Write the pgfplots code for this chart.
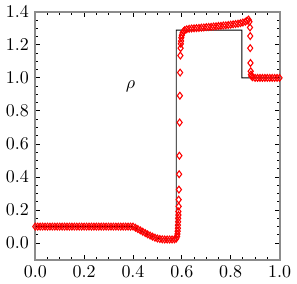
\documentclass[border=0pt]{standalone}
\usepackage{pgfplots}
\pgfplotsset{compat=1.18}
\begin{document}
\begin{tikzpicture}
\begin{axis}[
  scale only axis,
  width=136pt, height=138pt,
  xmin=0, xmax=1, ymin=-0.1, ymax=1.4,
  xtick={0,0.2,0.4,0.6,0.8,1.0},
  ytick={0,0.2,0.4,0.6,0.8,1.0,1.2,1.4},
  minor x tick num=3, minor y tick num=3,
  xticklabel style={/pgf/number format/.cd,fixed,fixed zerofill,precision=1},
  yticklabel style={/pgf/number format/.cd,fixed,fixed zerofill,precision=1},
  tick align=inside,
  major tick length=2.8pt, minor tick length=1.6pt,
  every tick/.style={black, line width=0.5pt},
  axis line style={gray!90, line width=1.1pt},
  clip=false,
]
\addplot[black, line width=0.5pt] coordinates {
(0,0.1) (0.4,0.1) (0.42,0.084) (0.44,0.068) (0.46,0.053) (0.48,0.040) (0.50,0.029) (0.51,0.025)
(0.577,0.025) (0.577,1.289) (0.846,1.289) (0.846,1.0) (1.0,1.0)
};
\addplot[only marks, mark=diamond, mark size=1.9pt, red, mark options={line width=0.6pt}] coordinates {
(0.00,0.1) (0.01,0.1) (0.02,0.1) (0.03,0.1) (0.04,0.1) (0.05,0.1) (0.06,0.1) (0.07,0.1) (0.08,0.1) (0.09,0.1)
(0.10,0.1) (0.11,0.1) (0.12,0.1) (0.13,0.1) (0.14,0.1) (0.15,0.1) (0.16,0.1) (0.17,0.1) (0.18,0.1) (0.19,0.1)
(0.20,0.1) (0.21,0.1) (0.22,0.1) (0.23,0.1) (0.24,0.1) (0.25,0.1) (0.26,0.1) (0.27,0.1) (0.28,0.1) (0.29,0.1)
(0.30,0.1) (0.31,0.1) (0.32,0.1) (0.33,0.1) (0.34,0.1) (0.35,0.1) (0.36,0.1) (0.37,0.1) (0.38,0.1) (0.39,0.1)
(0.40,0.1) (0.41,0.093) (0.42,0.085) (0.43,0.077) (0.44,0.069) (0.45,0.061) (0.46,0.053) (0.47,0.046)
(0.48,0.039) (0.49,0.033) (0.50,0.028) (0.51,0.025) (0.52,0.023) (0.53,0.022) (0.54,0.022) (0.55,0.022)
(0.56,0.022) (0.57,0.023) (0.577,0.027) (0.581,0.040) (0.582,0.055) (0.583,0.072) (0.584,0.090)
(0.584,0.109) (0.585,0.129) (0.585,0.150) (0.586,0.170) (0.586,0.191) (0.587,0.222) (0.587,0.263)
(0.588,0.324) (0.589,0.417) (0.590,0.529) (0.591,0.730) (0.592,0.892) (0.593,1.032) (0.594,1.135)
(0.595,1.180) (0.596,1.206) (0.597,1.223) (0.598,1.243) (0.600,1.258) (0.603,1.272) (0.607,1.282)
(0.612,1.289) (0.62,1.294) (0.63,1.297) (0.64,1.299) (0.65,1.300) (0.66,1.301) (0.67,1.302) (0.68,1.304)
(0.69,1.305) (0.70,1.307) (0.71,1.308) (0.72,1.309) (0.73,1.311) (0.74,1.312) (0.75,1.314) (0.76,1.315)
(0.77,1.317) (0.78,1.318) (0.79,1.320) (0.80,1.322) (0.81,1.324) (0.82,1.326) (0.83,1.328) (0.84,1.331)
(0.85,1.335) (0.86,1.340) (0.867,1.346) (0.873,1.353) (0.877,1.340) (0.879,1.305) (0.880,1.253)
(0.880,1.180) (0.881,1.090) (0.882,1.040) (0.883,1.020) (0.885,1.010) (0.89,1.004) (0.90,1.0)
(0.91,1.0) (0.92,1.0) (0.93,1.0) (0.94,1.0) (0.95,1.0) (0.96,1.0) (0.97,1.0) (0.98,1.0) (0.99,1.0) (1.00,1.0)
};
\node at (axis cs:0.39,0.95) {$\rho$};
\end{axis}
\end{tikzpicture}
\end{document}
